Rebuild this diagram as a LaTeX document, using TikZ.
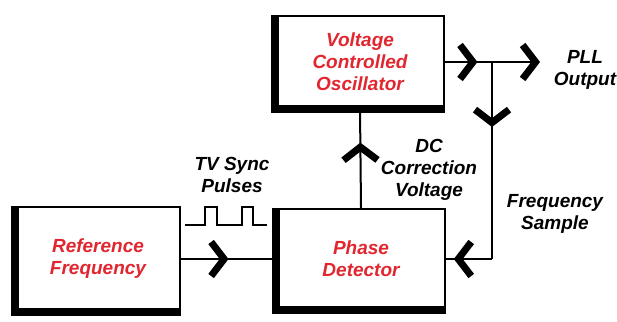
\documentclass[tikz,border=0pt]{standalone}
\usepackage{fontspec}
\setmainfont{Liberation Sans}
\usetikzlibrary{arrows.meta,decorations.markings}
\definecolor{blockred}{RGB}{226,38,48}

\begin{document}
\begin{tikzpicture}[x=1pt,y=-1pt,line width=2pt,
  >={Straight Barb[length=13pt,width=34pt,line width=7pt]},
  block/.style={draw,minimum width=168pt,text=blockred,align=center,
    font=\fontsize{19}{22}\selectfont\bfseries\itshape},
  tag/.style={align=center,font=\fontsize{19}{22}\selectfont\bfseries\itshape},
  flow/.style={postaction={decorate,decoration={markings,
    mark=at position #1 with {\arrow{>}}}}}]
  \useasboundingbox[fill=white] (0,0) rectangle (617,321);
  \node (vco) [block,minimum height=92pt] at (360,62) {Voltage\\Controlled\\Oscillator};
  \node (pd) [block,minimum height=100pt] at (361,259) {Phase\\Detector};
  \node (ref) [block,minimum width=164pt,minimum height=104pt] at (98,259) {Reference\\Frequency};
  % heavy left and bottom edges
  \foreach \b in {vco,pd,ref}
    \draw[line width=8pt,line join=miter] (\b.north west) -- (\b.south west) -- (\b.south east);

  \coordinate (tap) at (492,62);
  \coordinate (out) at (540,62);
  \coordinate (bend) at (tap |- pd.east);
  \draw[flow=0.5] (ref.east) -- (pd.west);
  \draw[flow=0.66] (pd.north) -- (vco.south);
  \draw[flow=0.69] (vco.east) -- (tap);
  \draw[->] (tap) -- (out);
  \draw[flow=0.33] (tap) -- (bend);
  \draw[flow=0.83] (bend) -- (pd.east);

  % sync pulses
  \draw (185,225) -| (205,207) -| (217,225) -| (242,207) -| (253,225) -- (267,225);

  \node (sync) [tag] at (232,175) {TV Sync\\Pulses};
  \node (dc) [tag] at (429,170) {DC\\Correction\\Voltage};
  \node (fs) [tag] at (555,214) {Frequency\\Sample};
  \node (pll) [tag] at (585,70) {PLL\\Output};
\end{tikzpicture}
\end{document}
